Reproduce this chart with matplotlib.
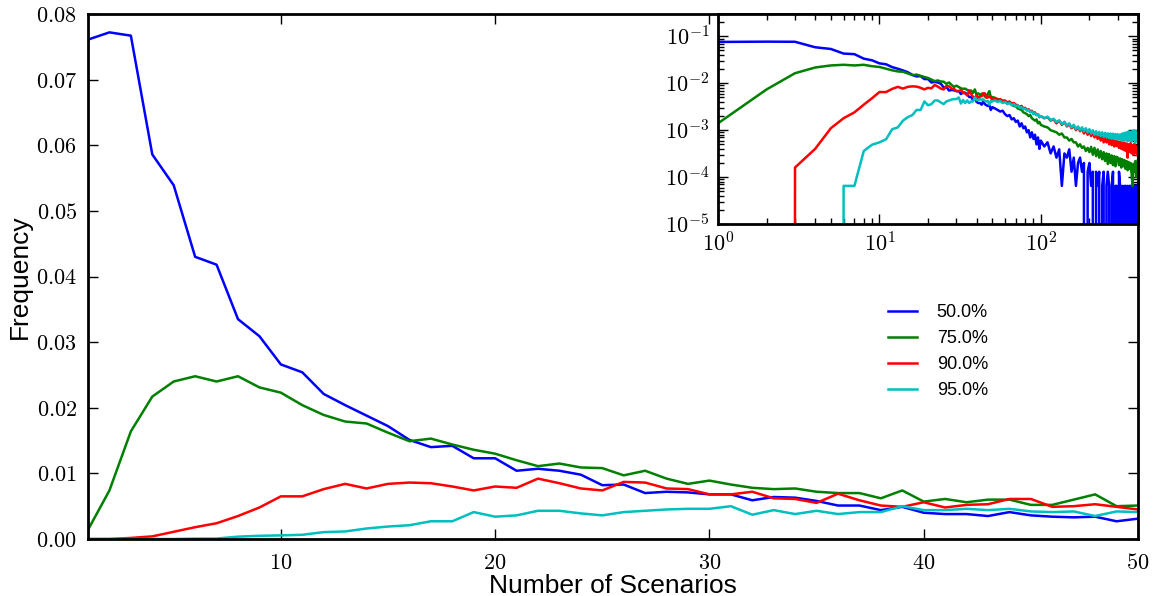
import numpy as np
import matplotlib
matplotlib.use("Agg")
import matplotlib.pyplot as plt
from matplotlib.ticker import FuncFormatter, FixedLocator, LogLocator, NullFormatter

plt.rcParams['mathtext.fontset'] = 'cm'
plt.rcParams['mathtext.default'] = 'rm'
plt.rcParams['font.family'] = ['Liberation Sans', 'DejaVu Sans']

# ---------------- data ----------------
x_main = list(range(1, 51))

blue_main = [0.0761, 0.0772, 0.0767, 0.0586, 0.0539, 0.0430, 0.0418, 0.0335, 0.0309, 0.0266,
             0.0254, 0.0221, 0.0204, 0.0188, 0.0172, 0.0151, 0.0140, 0.0142, 0.0123, 0.0123,
             0.0104, 0.0107, 0.0104, 0.0098, 0.0082, 0.0083, 0.0070, 0.0072, 0.0071, 0.0068,
             0.0068, 0.0059, 0.0064, 0.0063, 0.0058, 0.0051, 0.0051, 0.0044, 0.0049, 0.0040,
             0.0038, 0.0038, 0.0035, 0.0041, 0.0036, 0.0034, 0.0033, 0.0034, 0.0027, 0.0031]
green_main = [0.0014, 0.0074, 0.0164, 0.0217, 0.0240, 0.0248, 0.0240, 0.0248, 0.0231, 0.0223,
              0.0204, 0.0189, 0.0179, 0.0176, 0.0162, 0.0149, 0.0153, 0.0144, 0.0136, 0.0130,
              0.0120, 0.0111, 0.0115, 0.0109, 0.0108, 0.0097, 0.0104, 0.0092, 0.0084, 0.0089,
              0.0083, 0.0078, 0.0076, 0.0077, 0.0072, 0.0070, 0.0070, 0.0062, 0.0074, 0.0057,
              0.0061, 0.0056, 0.0060, 0.0060, 0.0052, 0.0052, 0.0060, 0.0068, 0.0050, 0.0051]
red_main = [0.0, 0.0, 0.00016, 0.0004, 0.0011, 0.0018, 0.0024, 0.0035, 0.0048, 0.0065,
            0.0065, 0.0076, 0.0084, 0.0077, 0.0084, 0.0086, 0.0085, 0.0080, 0.0074, 0.0080,
            0.0078, 0.0092, 0.0085, 0.0077, 0.0074, 0.0087, 0.0086, 0.0077, 0.0076, 0.0068,
            0.0068, 0.0072, 0.0062, 0.0061, 0.0055, 0.0069, 0.0059, 0.0051, 0.0049, 0.0056,
            0.0048, 0.0052, 0.0053, 0.0061, 0.0061, 0.0049, 0.0050, 0.0053, 0.0049, 0.0045]
cyan_main = [0.0, 0.0, 0.0, 0.0, 0.0, 0.000065, 0.000065, 0.00036, 0.00049, 0.00055,
             0.00064, 0.00105, 0.00115, 0.0016, 0.0019, 0.0021, 0.0027, 0.0027, 0.0041, 0.0034,
             0.0036, 0.0043, 0.0043, 0.0039, 0.0036, 0.0041, 0.0043, 0.0045, 0.0046, 0.0046,
             0.0050, 0.0037, 0.0044, 0.0038, 0.0043, 0.0038, 0.0041, 0.0041, 0.0050, 0.0044,
             0.0044, 0.0046, 0.0044, 0.0046, 0.0042, 0.0041, 0.0042, 0.0035, 0.0042, 0.0041]

# tail of the distributions (inset only), values in units of 1e-4
x_tail = list(range(52, 101, 2)) + list(range(105, 401, 5))

blue_tail_e4 = [29, 27, 25, 26, 22, 20, 21, 17, 18, 15, 16, 12, 14, 11, 12, 9, 10, 7, 9, 6.5, 8, 5, 7, 4, 6,
                4.5, 5.5, 3.2, 4.5, 2.6, 3.9, 0.65, 3.2, 2.6, 3.9, 1.3, 2.6, 0.65, 2.0, 2.6, 1.3, 2.0, 0, 1.3, 2.0,
                0.65, 1.3, 0, 1.3, 0.65, 1.3, 0, 0.65, 1.3, 0, 0.65, 1.3, 0.65, 0, 0.65, 1.3, 0, 0.65, 0.65, 0,
                1.3, 0.65, 0, 0.65, 0, 0.65, 0.65, 0, 0.65, 0, 0.65, 0.65, 0, 0.65, 0, 0.65, 0, 0.65, 0.65, 0]
green_tail_e4 = [49, 46, 44, 43, 40, 38, 39, 35, 33, 32, 29, 28, 27, 24, 23, 22, 20, 21, 18, 17, 16, 17, 14, 15, 13,
                 12, 11.5, 10, 9.5, 9, 8, 8.5, 7, 7, 6, 6.5, 5.5, 5.5, 4.5, 5, 4.2, 4.5, 3.6, 4.2, 3.4,
                 4.4, 3.0, 4.2, 2.8, 3.9, 2.6, 3.6, 2.4, 3.4, 2.2, 3.2, 1.9, 3.1, 2.0, 2.9, 1.8, 2.8, 1.7, 2.7,
                 2.6, 1.8, 2.5, 1.6, 2.4, 1.7, 2.3, 1.5, 2.2, 1.4, 2.1, 1.5, 2.0, 1.2, 0.65, 1.9, 1.3, 2.2, 1.0,
                 1.8, 2.4]
red_tail_e4 = [47, 44, 46, 42, 43, 39, 41, 37, 38, 35, 34, 31, 33, 29, 30, 27, 28, 25, 26, 23, 24, 21, 22, 19, 20,
               18, 19, 16, 17, 14, 16, 13, 15, 12, 13.5, 11, 12.5, 10, 11.5, 9.5, 11, 8.5, 10, 8, 9.5,
               7.5, 9, 7, 8.5, 6.5, 8, 6, 7.5, 5.5, 7, 5.5, 6.8, 5, 6.5, 4.8, 6.2, 4.5, 6, 4.6, 5.8,
               4.2, 5.6, 4, 5.5, 3.8, 5.4, 3.6, 5.2, 2.6, 5, 3.5, 5.3, 3.2, 4.8, 3.0, 5.1, 3.3, 4.6, 2.9, 4.5]
cyan_tail_e4 = [43, 40, 42, 38, 40, 36, 38, 34, 36, 32, 34, 30, 31, 28, 29, 26, 27, 24, 25, 22, 23, 21, 22, 19, 20,
                18, 19.5, 16.5, 17.5, 15, 16, 13.5, 15, 12.5, 14, 11.5, 13, 10.5, 12, 10, 11.5, 9.5, 11, 9, 10.5,
                8.5, 10, 8, 9.5, 7.8, 9.2, 7.5, 9, 7.2, 8.8, 7, 8.6, 6.8, 8.5, 6.6, 8.4, 6.5, 8.3, 6.4, 8.2,
                6.3, 8.1, 6.2, 8.5, 6, 8.8, 6.1, 9, 5.8, 9.5, 6, 9.2, 5.7, 9.6, 6.2, 10, 5.5, 9.5, 6, 9]

labels = ['50.0%', '75.0%', '90.0%', '95.0%']
colors = ['#0000ff', '#008000', '#ff0000', '#00bfbf']

main_series = [blue_main, green_main, red_main, cyan_main]
tail_series = [blue_tail_e4, green_tail_e4, red_tail_e4, cyan_tail_e4]

# ---------------- figure ----------------
fig = plt.figure(figsize=(11.55, 5.96), dpi=100)
ax = fig.add_axes([88 / 1155, 1 - 539 / 596, 1050 / 1155, 525 / 596])

for ys, c, lab in zip(main_series, colors, labels):
    ax.plot(x_main, ys, color=c, lw=1.8, label=lab)

ax.set_xlim(1, 50)
ax.set_ylim(0, 0.08)
ax.xaxis.set_major_locator(FixedLocator([10, 20, 30, 40, 50]))
ax.yaxis.set_major_locator(FixedLocator([0.0, 0.01, 0.02, 0.03, 0.04, 0.05, 0.06, 0.07, 0.08]))
ax.xaxis.set_major_formatter(FuncFormatter(lambda v, p: r'$%d$' % int(round(v))))
ax.yaxis.set_major_formatter(FuncFormatter(lambda v, p: r'$%.2f$' % v))
ax.tick_params(direction='in', length=7, width=1, top=True, right=True, labelsize=16, pad=8)
ax.tick_params(axis='x', pad=10)
for s in ax.spines.values():
    s.set_linewidth(2)

ax.set_xlabel('Number of Scenarios', fontsize=19, labelpad=0)
ax.set_ylabel('Frequency', fontsize=19, labelpad=3)

ax.legend(loc='upper left', bbox_to_anchor=(888 / 1155, 1 - 304 / 596),
          bbox_transform=fig.transFigure, frameon=False, fontsize=13,
          handlelength=1.6, handletextpad=1.1, labelspacing=0.5, borderpad=0, borderaxespad=0)

# ---------------- inset ----------------
axin = ax.inset_axes([0.6, 0.6, 0.4, 0.4])
for ys, tl, c in zip(main_series, tail_series, colors):
    xx = x_main + x_tail
    yy = list(ys) + [v * 1e-4 for v in tl]
    axin.plot(xx, yy, color=c, lw=1.8)
axin.set_xscale('log', nonpositive='clip')
axin.set_yscale('log', nonpositive='clip')
axin.set_xlim(1, 400)
axin.set_ylim(1e-5, 0.3)
axin.xaxis.set_major_locator(FixedLocator([1, 10, 100]))
axin.yaxis.set_major_locator(FixedLocator([1e-5, 1e-4, 1e-3, 1e-2, 1e-1]))
axin.yaxis.set_minor_locator(LogLocator(base=10, subs=np.arange(2, 10), numticks=20))
axin.xaxis.set_minor_locator(LogLocator(base=10, subs=np.arange(2, 10), numticks=20))
axin.xaxis.set_major_formatter(FuncFormatter(lambda v, p: r'$10^{%d}$' % int(round(np.log10(v)))))
axin.yaxis.set_major_formatter(FuncFormatter(lambda v, p: r'$10^{%d}$' % int(round(np.log10(v)))))
axin.xaxis.set_minor_formatter(NullFormatter())
axin.yaxis.set_minor_formatter(NullFormatter())
axin.tick_params(which='major', direction='in', length=7, width=1, top=True, right=True,
                 labelsize=16, pad=6)
axin.tick_params(which='minor', direction='in', length=4, width=1, top=True, right=True)
for s in axin.spines.values():
    s.set_linewidth(2)

fig.savefig('out.png', dpi=100)
